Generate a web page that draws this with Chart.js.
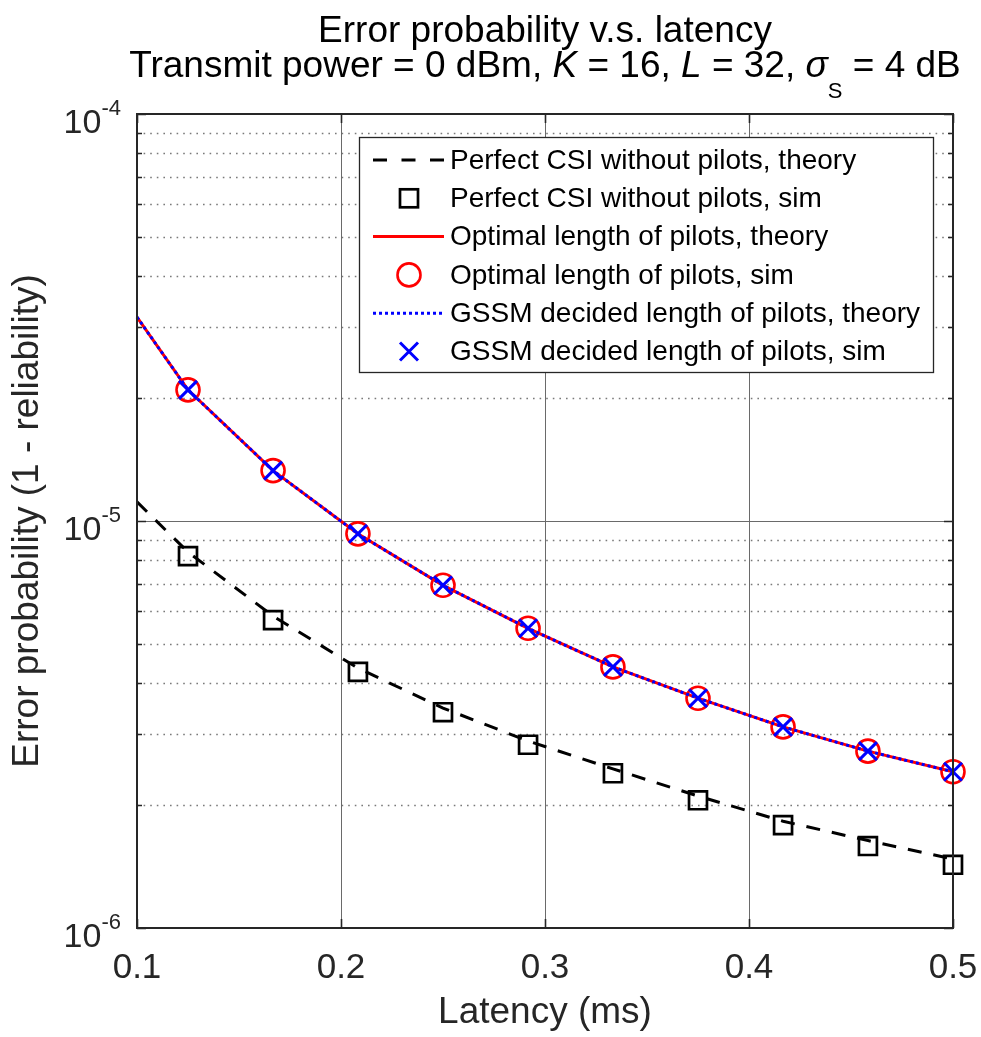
<!DOCTYPE html>
<html>
<head>
<meta charset="utf-8">
<script src="https://cdn.jsdelivr.net/npm/chart.js@4.4.1/dist/chart.umd.min.js"></script>
<style>
  body { margin: 0; background: #fff; }
  #wrap { width: 981px; height: 1037px; }
</style>
</head>
<body>
<div id="wrap"><canvas id="errChart" width="981" height="1037"></canvas></div>
<script>
// latency in ms
const latencyTheory = [0.1, 0.125, 0.1667, 0.2083, 0.25, 0.2917, 0.3333, 0.375, 0.4167, 0.4583, 0.5];
const latencySim = [0.125, 0.1667, 0.2083, 0.25, 0.2917, 0.3333, 0.375, 0.4167, 0.4583, 0.5];

// error probability
const perfectTheory = [1.114e-5, 8.39e-6, 5.84e-6, 4.35e-6, 3.47e-6, 2.88e-6, 2.46e-6, 2.11e-6, 1.83e-6, 1.64e-6, 1.477e-6];
const perfectSim = [8.20e-6, 5.71e-6, 4.26e-6, 3.39e-6, 2.82e-6, 2.40e-6, 2.06e-6, 1.79e-6, 1.59e-6, 1.43e-6];
const optimalTheory = [3.17e-5, 2.10e-5, 1.33e-5, 9.3e-6, 6.95e-6, 5.45e-6, 4.38e-6, 3.67e-6, 3.12e-6, 2.72e-6, 2.42e-6];
const optimalSim = [2.10e-5, 1.33e-5, 9.3e-6, 6.95e-6, 5.45e-6, 4.38e-6, 3.67e-6, 3.12e-6, 2.72e-6, 2.42e-6];
const gssmTheory = [3.17e-5, 2.10e-5, 1.33e-5, 9.3e-6, 6.95e-6, 5.45e-6, 4.38e-6, 3.67e-6, 3.12e-6, 2.72e-6, 2.42e-6];
const gssmSim = [2.10e-5, 1.33e-5, 9.3e-6, 6.95e-6, 5.45e-6, 4.38e-6, 3.67e-6, 3.12e-6, 2.72e-6, 2.42e-6];

const xTicks = [0.1, 0.2, 0.3, 0.4, 0.5];
const yDecades = [-6, -5, -4];

const seriesLabels = [
  'Perfect CSI without pilots, theory',
  'Perfect CSI without pilots, sim',
  'Optimal length of pilots, theory',
  'Optimal length of pilots, sim',
  'GSSM decided length of pilots, theory',
  'GSSM decided length of pilots, sim'
];

const FONT = '"Liberation Sans", Arial, Helvetica, sans-serif';
const AXIS_INK = '#262626';

const pts = (xs, ys) => xs.map((x, i) => ({ x: x, y: ys[i] }));

// minor / major log ticks between 1e-6 and 1e-4
const yGridValues = [];
for (let d = -6; d < -4; d++) {
  for (let m = 1; m <= 9; m++) yGridValues.push(m * Math.pow(10, d));
}
yGridValues.push(1e-4);

// background grid: solid at decades and x ticks, dotted at minor decades
const gridPlugin = {
  id: 'matlabGrid',
  beforeDatasetsDraw(chart) {
    const { ctx, chartArea: a, scales: { x, y } } = chart;
    ctx.save();
    ctx.lineWidth = 1.4;
    ctx.strokeStyle = '#7a7a7a';
    ctx.setLineDash([1.6, 5]);
    yGridValues.forEach(v => {
      const m = Math.round(v / Math.pow(10, Math.floor(Math.log10(v) + 1e-9)));
      if (m === 1) return;
      const py = Math.round(y.getPixelForValue(v)) + 0.5;
      ctx.beginPath();
      ctx.moveTo(a.left, py);
      ctx.lineTo(a.right, py);
      ctx.stroke();
    });
    ctx.setLineDash([]);
    ctx.lineWidth = 1;
    ctx.strokeStyle = '#6a6a6a';
    yDecades.forEach(d => {
      const py = Math.round(y.getPixelForValue(Math.pow(10, d))) + 0.5;
      ctx.beginPath();
      ctx.moveTo(a.left, py);
      ctx.lineTo(a.right, py);
      ctx.stroke();
    });
    xTicks.forEach(v => {
      const px = Math.round(x.getPixelForValue(v)) + 0.5;
      ctx.beginPath();
      ctx.moveTo(px, a.top);
      ctx.lineTo(px, a.bottom);
      ctx.stroke();
    });
    ctx.restore();
  }
};

function drawRuns(ctx, runs, cx, baseline) {
  let total = 0;
  runs.forEach(r => { ctx.font = r.font; r.w = ctx.measureText(r.text).width; total += r.w; });
  let px = cx - total / 2;
  runs.forEach(r => {
    ctx.font = r.font;
    ctx.fillText(r.text, px, baseline + (r.dy || 0));
    px += r.w;
  });
}

function drawMarker(ctx, style, px, py) {
  ctx.save();
  ctx.setLineDash([]);
  if (style === 'rect') {
    ctx.strokeStyle = '#000';
    ctx.lineWidth = 2.7;
    ctx.strokeRect(px - 9, py - 9, 18, 18);
  } else if (style === 'circle') {
    ctx.strokeStyle = '#ff0000';
    ctx.lineWidth = 2.6;
    ctx.beginPath();
    ctx.arc(px, py, 11.5, 0, Math.PI * 2);
    ctx.stroke();
  } else {
    ctx.strokeStyle = '#0000ff';
    ctx.lineWidth = 3;
    ctx.beginPath();
    ctx.moveTo(px - 9, py - 9); ctx.lineTo(px + 9, py + 9);
    ctx.moveTo(px + 9, py - 9); ctx.lineTo(px - 9, py + 9);
    ctx.stroke();
  }
  ctx.restore();
}

// axes box, inward ticks, tick labels, axis titles, title and legend
const decorPlugin = {
  id: 'matlabDecor',
  afterDraw(chart) {
    const { ctx, chartArea: a, scales: { x, y } } = chart;
    ctx.save();

    // inward tick marks
    ctx.strokeStyle = AXIS_INK;
    ctx.lineWidth = 1.6;
    ctx.beginPath();
    xTicks.forEach(v => {
      const px = Math.round(x.getPixelForValue(v)) + 0.5;
      ctx.moveTo(px, a.bottom); ctx.lineTo(px, a.bottom - 9);
      ctx.moveTo(px, a.top); ctx.lineTo(px, a.top + 9);
    });
    yGridValues.forEach(v => {
      const py = Math.round(y.getPixelForValue(v)) + 0.5;
      const major = Math.abs(Math.log10(v) - Math.round(Math.log10(v))) < 1e-6;
      const len = major ? 9 : 5;
      ctx.moveTo(a.left, py); ctx.lineTo(a.left + len, py);
      ctx.moveTo(a.right, py); ctx.lineTo(a.right - len, py);
    });
    ctx.stroke();

    // box
    ctx.lineWidth = 2;
    ctx.strokeRect(a.left, a.top, a.right - a.left, a.bottom - a.top);

    // x tick labels
    ctx.fillStyle = AXIS_INK;
    ctx.font = '35px ' + FONT;
    ctx.textAlign = 'center';
    ctx.textBaseline = 'alphabetic';
    xTicks.forEach(v => {
      ctx.fillText(v.toFixed(1), x.getPixelForValue(v), 978);
    });

    // y tick labels 10^n
    ctx.textAlign = 'left';
    yDecades.forEach(d => {
      const py = y.getPixelForValue(Math.pow(10, d));
      ctx.font = '22px ' + FONT;
      const sup = '-' + Math.abs(d);
      const wSup = ctx.measureText(sup).width;
      ctx.font = '34px ' + FONT;
      const wBase = ctx.measureText('10').width;
      const right = a.left - 16;
      ctx.fillText('10', right - wSup - wBase, py + 19);
      ctx.font = '22px ' + FONT;
      ctx.fillText(sup, right - wSup, py + 1);
    });

    // axis titles
    ctx.font = '37px ' + FONT;
    ctx.textAlign = 'center';
    ctx.fillText('Latency (ms)', (a.left + a.right) / 2, 1023);
    ctx.save();
    ctx.translate(38, (a.top + a.bottom) / 2);
    ctx.rotate(-Math.PI / 2);
    ctx.fillText('Error probability (1 - reliability)', 0, 0);
    ctx.restore();

    // title
    ctx.fillStyle = '#000';
    ctx.textAlign = 'left';
    const cx = (a.left + a.right) / 2;
    const n = '37px ' + FONT, it = 'italic 37px ' + FONT;
    drawRuns(ctx, [{ text: 'Error probability v.s. latency', font: n }], cx, 42);
    drawRuns(ctx, [
      { text: 'Transmit power = 0 dBm, ', font: n },
      { text: 'K', font: it },
      { text: ' = 16, ', font: n },
      { text: 'L', font: it },
      { text: ' = 32, ', font: n },
      { text: '\u03C3', font: it },
      { text: 'S', font: '22px ' + FONT, dy: 21 },
      { text: ' = 4 dB', font: n }
    ], cx, 77);

    // legend
    const lx = 359, ly = 137, lw = 574, lh = 235;
    ctx.fillStyle = '#fff';
    ctx.fillRect(lx, ly, lw, lh);
    ctx.strokeStyle = AXIS_INK;
    ctx.lineWidth = 1.3;
    ctx.strokeRect(lx + 0.5, ly + 0.5, lw, lh);
    const rowY = i => 160 + i * 38.3;
    const samples = [
      { kind: 'line', color: '#000', dash: [14, 14.5], width: 3 },
      { kind: 'rect' },
      { kind: 'line', color: '#ff0000', dash: [], width: 3 },
      { kind: 'circle' },
      { kind: 'line', color: '#0000ff', dash: [3, 3], width: 3 },
      { kind: 'cross' }
    ];
    samples.forEach((s, i) => {
      const ry = rowY(i);
      if (s.kind === 'line') {
        ctx.save();
        ctx.strokeStyle = s.color;
        ctx.lineWidth = s.width;
        ctx.setLineDash(s.dash);
        ctx.beginPath();
        ctx.moveTo(373, ry); ctx.lineTo(444, ry);
        ctx.stroke();
        ctx.restore();
      } else {
        drawMarker(ctx, s.kind, 409, ry);
      }
      ctx.fillStyle = '#000';
      ctx.font = '28px ' + FONT;
      ctx.textAlign = 'left';
      ctx.textBaseline = 'middle';
      ctx.fillText(seriesLabels[i], 450, ry + 1);
    });

    ctx.restore();
  }
};

// first dataset is painted last (on top)
const datasets = [
  {
    label: seriesLabels[5], data: pts(latencySim, gssmSim), showLine: false,
    pointStyle: 'crossRot', pointRadius: 12.7, pointBorderWidth: 3,
    borderColor: '#0000ff', backgroundColor: 'transparent', clip: false
  },
  {
    label: seriesLabels[4], data: pts(latencyTheory, gssmTheory),
    borderColor: '#0000ff', borderWidth: 3, borderDash: [3, 3], pointRadius: 0,
    fill: false, tension: 0, clip: false
  },
  {
    label: seriesLabels[3], data: pts(latencySim, optimalSim), showLine: false,
    pointStyle: 'circle', pointRadius: 11.5, pointBorderWidth: 2.6,
    borderColor: '#ff0000', backgroundColor: 'transparent', clip: false
  },
  {
    label: seriesLabels[2], data: pts(latencyTheory, optimalTheory),
    borderColor: '#ff0000', borderWidth: 3, pointRadius: 0, fill: false, tension: 0, clip: false
  },
  {
    label: seriesLabels[1], data: pts(latencySim, perfectSim), showLine: false,
    pointStyle: 'rect', pointRadius: 12.7, pointBorderWidth: 2.7,
    borderColor: '#000', backgroundColor: 'transparent', clip: false
  },
  {
    label: seriesLabels[0], data: pts(latencyTheory, perfectTheory),
    borderColor: '#000', borderWidth: 3, borderDash: [14, 12], pointRadius: 0,
    fill: false, tension: 0, clip: false
  }
];

new Chart(document.getElementById('errChart'), {
  type: 'line',
  data: { datasets: datasets },
  options: {
    responsive: false,
    devicePixelRatio: 1,
    animation: false,
    events: [],
    layout: { padding: { left: 137, right: 28, top: 114, bottom: 109 } },
    plugins: { legend: { display: false }, tooltip: { enabled: false }, title: { display: false } },
    scales: {
      x: {
        type: 'linear', min: 0.1, max: 0.5,
        ticks: { display: false },
        grid: { display: false, drawTicks: false },
        border: { display: false }
      },
      y: {
        type: 'logarithmic', min: 1e-6, max: 1e-4,
        ticks: { display: false },
        grid: { display: false, drawTicks: false },
        border: { display: false }
      }
    }
  },
  plugins: [gridPlugin, decorPlugin]
});
</script>
</body>
</html>
